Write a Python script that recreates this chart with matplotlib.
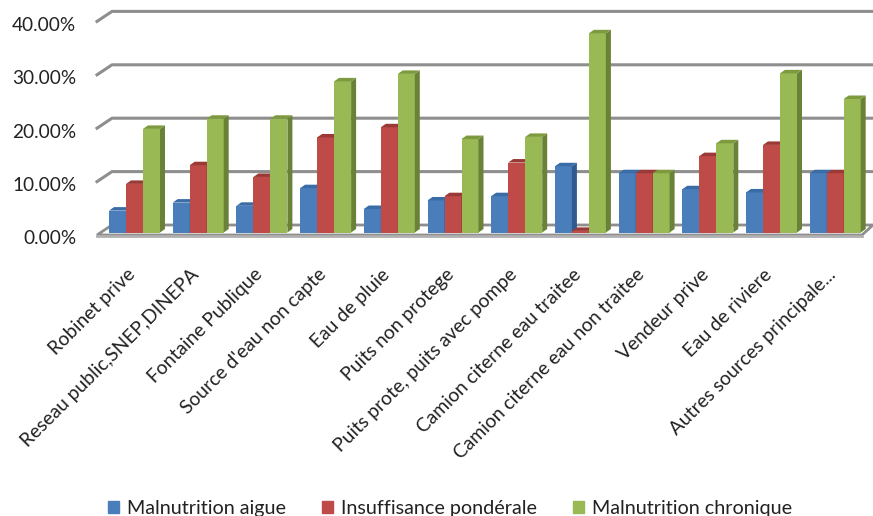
import matplotlib
matplotlib.use("Agg")
import matplotlib.pyplot as plt
from matplotlib.patches import Polygon, Patch
from matplotlib.transforms import ScaledTranslation

categories = ["Robinet prive", "Reseau public,SNEP,DINEPA", "Fontaine Publique",
              "Source d'eau non capte", "Eau de pluie", "Puits non protege",
              "Puits prote, puits avec pompe", "Camion citerne eau traitee",
              "Camion citerne eau non traitee", "Vendeur prive", "Eau de riviere",
              "Autres sources principale..."]
aigue = [4.1, 5.6, 5.0, 8.3, 4.4, 6.0, 6.8, 12.4, 11.1, 8.1, 7.5, 11.1]
ponderale = [9.1, 12.6, 10.4, 17.8, 19.7, 6.8, 13.1, 0.3, 11.1, 14.3, 16.4, 11.1]
chronique = [19.4, 21.3, 21.3, 28.3, 29.7, 17.5, 17.9, 37.3, 11.1, 16.7, 29.8, 25.0]
yticks = [0, 10, 20, 30, 40]

W, H = 873, 516
PX_PER_CAT = 63.7
PX_PER_UNIT = 5.34

# face, side, top colours for each series
series = [
    ("Malnutrition aigue", aigue, "#4A7EBB", "#2F5B8F", "#3A6CA8"),
    ("Insuffisance pondérale", ponderale, "#BE4B48", "#8C3230", "#9A3A37"),
    ("Malnutrition chronique", chronique, "#98B954", "#6A8238", "#7D9A3F"),
]

plt.rcParams["font.family"] = ["Lato", "DejaVu Sans"]

fig = plt.figure(figsize=(W / 100, H / 100), dpi=100)
left, right, bottom, top = 97, 873, 232.5, 18.9
ax = fig.add_axes([left / W, 1 - bottom / H, (right - left) / W, (bottom - top) / H])
ax.set_xlim((left - 134.5) / PX_PER_CAT, (right - 134.5) / PX_PER_CAT)
ax.set_ylim(0, 40)
ax.patch.set_visible(False)
for s in ax.spines.values():
    s.set_visible(False)


def dx(px):
    return px / PX_PER_CAT


def dy(px):
    return px / PX_PER_UNIT


# wall gridlines, front end is 2.5px under the bar plane, back end 7.5px over it
grid_col = "#8E8E8E"
x0, x1, x2 = ax.get_xlim()[0], ax.get_xlim()[0] + dx(15), ax.get_xlim()[1]
for v in yticks[1:]:
    ax.plot([x0, x1, x2], [v - dy(2.5), v + dy(7.5), v + dy(7.5)], color=grid_col,
            lw=2.2, clip_on=False, zorder=1, solid_joinstyle="round")

# floor
floor_r = x0 + dx(765)
ax.add_patch(Polygon([(x0, -dy(2.5)), (x1, dy(7.5)), (x2, dy(7.5)), (floor_r, -dy(2.5))],
                     closed=True, fc="white", ec=grid_col, lw=2.0, clip_on=False, zorder=1))
ax.plot([x0, floor_r], [-dy(3.2), -dy(3.2)], color="#B0B0B0", lw=2, clip_on=False, zorder=1)

# bars
bw = dx(17)
depth_x = dx(5)
depth_y = dy(3.5)
order = 10
for i in range(len(categories)):
    for j, (name, vals, face, side, top_col) in enumerate(series):
        xl = i + (j - 1.5) * bw
        xr = xl + bw
        v = vals[i]
        ax.bar(xl, v, width=bw, align="edge", color=face, zorder=order, clip_on=False)
        ax.add_patch(Polygon([(xr, 0), (xr + depth_x, depth_y), (xr + depth_x, v + depth_y), (xr, v)],
                             closed=True, fc=side, ec="none", zorder=order, clip_on=False))
        ax.add_patch(Polygon([(xl, v), (xl + depth_x, v + depth_y), (xr + depth_x, v + depth_y), (xr, v)],
                             closed=True, fc=top_col, ec="none", zorder=order, clip_on=False))
        order += 1

ax.set_yticks(yticks)
ax.set_yticklabels([f"{v:.2f}%" for v in yticks], fontsize=13.7, color="#222222")
ax.tick_params(axis="y", length=0, pad=15)
shift = ScaledTranslation(0, -5 / 100, fig.dpi_scale_trans)
for lab in ax.get_yticklabels():
    lab.set_transform(lab.get_transform() + shift)

ax.set_xticks(range(len(categories)))
ax.set_xticklabels(categories, rotation=45, ha="right", rotation_mode="anchor",
                   fontsize=13.85, color="#222222")
ax.tick_params(axis="x", length=0, pad=24)
shift_x = ScaledTranslation(-8 / 100, 0, fig.dpi_scale_trans)
for lab in ax.get_xticklabels():
    lab.set_transform(lab.get_transform() + shift_x)

handles = [Patch(color=c[2], label=c[0]) for c in series]
fig.legend(handles=handles, loc="lower center", ncol=3, frameon=False, fontsize=14.2,
           bbox_to_anchor=(0.5155, -0.036), handlelength=0.55, handleheight=0.55,
           handletextpad=0.4, columnspacing=1.85, labelcolor="#222222")

fig.savefig("out.png", dpi=100)
